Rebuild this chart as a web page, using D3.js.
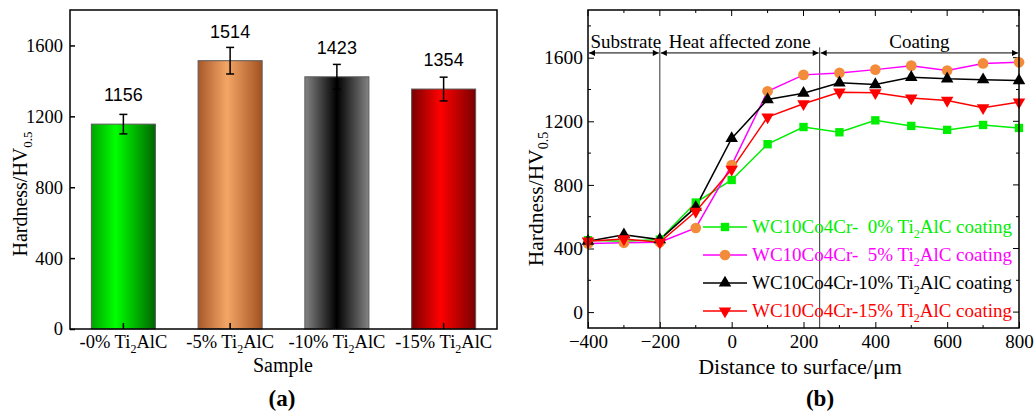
<!DOCTYPE html>
<html><head><meta charset="utf-8">
<script src="https://cdn.jsdelivr.net/npm/d3@7"></script>
<style>
body{margin:0;background:#fff;}
svg text{font-family:"Liberation Serif","Times New Roman",serif;}
</style></head>
<body><svg id="c" width="1036" height="417"></svg>
<script>
// ---- Panel (a) data ----
const categories = ["-0%", "-5%", "-10%", "-15%"];
const hardness = [1156, 1514, 1423, 1354];
const hardnessErr = [55, 75, 70, 67];
const leftYTicks = [0, 400, 800, 1200, 1600];

// ---- Panel (b) data ----
const distance = [-400, -300, -200, -100, 0, 100, 200, 300, 400, 500, 600, 700, 800];
const s0  = [452, 446, 456, 689, 831, 1056, 1164, 1131, 1206, 1171, 1146, 1177, 1158];
const s5  = [431, 436, 439, 529, 925, 1389, 1492, 1504, 1525, 1550, 1519, 1564, 1571];
const s10 = [446, 487, 456, 660, 1092, 1337, 1377, 1442, 1431, 1477, 1467, 1462, 1456];
const s15 = [446, 460, 439, 633, 898, 1227, 1310, 1383, 1379, 1346, 1331, 1285, 1321];
const seriesNames = ["WC10Co4Cr-  0%", "WC10Co4Cr-  5%", "WC10Co4Cr-10%", "WC10Co4Cr-15%"];
const rightXTicks = [-400, -200, 0, 200, 400, 600, 800];
const rightYTicks = [0, 400, 800, 1200, 1600];
const zoneBounds = [-400, -200, 245, 800];
const zoneNames = ["Substrate", "Heat affected zone", "Coating"];

const svg = d3.select("#c");
const defs = svg.append("defs");
const fmt = d3.format("d");

// ================= Panel (a) =================
const ax = d3.scaleBand().domain(categories).range([70, 497]).paddingInner(0.4).paddingOuter(0.2);
const ay = d3.scaleLinear().domain([0, 1800]).range([329, 10]);

const gradStops = [
  [["0%", "#00a400"], ["38%", "#00ff00"], ["100%", "#006600"]],
  [["0%", "#a8582a"], ["45%", "#f4a666"], ["100%", "#a25222"]],
  [["0%", "#848484"], ["50%", "#000000"], ["100%", "#848484"]],
  [["0%", "#7a0000"], ["45%", "#ff0000"], ["100%", "#7a0000"]]
];
gradStops.forEach((st, i) => {
  const g = defs.append("linearGradient").attr("id", "g" + i).attr("x1", "0%").attr("x2", "100%").attr("y1", "0%").attr("y2", "0%");
  st.forEach(s => g.append("stop").attr("offset", s[0]).attr("stop-color", s[1]));
});

const gA = svg.append("g");
gA.selectAll("rect.bar").data(hardness).enter().append("rect")
  .attr("x", (d, i) => ax(categories[i])).attr("width", ax.bandwidth())
  .attr("y", d => ay(d)).attr("height", d => ay(0) - ay(d))
  .attr("fill", (d, i) => `url(#g${i})`).attr("stroke", "#5a5a5a").attr("stroke-width", 1);

// error bars + value labels
hardness.forEach((v, i) => {
  const cx = ax(categories[i]) + ax.bandwidth() / 2;
  const t = ay(v + hardnessErr[i]), b = ay(v - hardnessErr[i]);
  gA.append("line").attr("x1", cx).attr("x2", cx).attr("y1", t).attr("y2", b).attr("stroke", "#000").attr("stroke-width", 1.5);
  [t, b].forEach(yy => gA.append("line").attr("x1", cx - 4).attr("x2", cx + 4).attr("y1", yy).attr("y2", yy).attr("stroke", "#000").attr("stroke-width", 1.5));
  gA.append("text").attr("x", cx).attr("y", ay(v) - 23).attr("text-anchor", "middle")
    .style("font-family", "'Liberation Sans',Arial,sans-serif").style("font-size", "18px").text(v);
});

// frame
gA.append("rect").attr("x", 70).attr("y", 10).attr("width", 427).attr("height", 319).attr("fill", "none").attr("stroke", "#000").attr("stroke-width", 1.5);

// left axis
const yAxA = d3.axisLeft(ay).tickValues(leftYTicks).tickFormat(fmt).tickSizeInner(-5).tickSizeOuter(0).tickPadding(7);
const gyA = gA.append("g").attr("transform", "translate(70,0)").call(yAxA);
gyA.select(".domain").remove();
gyA.selectAll("text").style("font-size", "18.5px").style("font-family", "'Liberation Serif',serif").attr("fill", "#000");
gyA.selectAll("line").attr("stroke-width", 1.5);

// bottom axis
const xAxA = d3.axisBottom(ax).tickSizeInner(-6).tickSizeOuter(0).tickFormat("");
const gxA = gA.append("g").attr("transform", "translate(0,329)").call(xAxA);
gxA.select(".domain").remove();
gxA.selectAll("line").attr("stroke-width", 1.5);
categories.forEach(c => {
  const t = gA.append("text").attr("x", ax(c) + ax.bandwidth() / 2).attr("y", 348).attr("text-anchor", "middle").style("font-size", "18.5px");
  t.append("tspan").text(c + " Ti");
  t.append("tspan").attr("dy", 5).style("font-size", "12px").text("2");
  t.append("tspan").attr("dy", -5).text("AlC");
});
gA.append("text").attr("x", 283).attr("y", 372).attr("text-anchor", "middle").style("font-size", "20px").text("Sample");
{
  const t = gA.append("text").attr("transform", "translate(27,194) rotate(-90)").attr("text-anchor", "middle").style("font-size", "20px");
  t.append("tspan").text("Hardness/HV");
  t.append("tspan").attr("dy", 5).style("font-size", "13px").text("0.5");
}
gA.append("text").attr("x", 282).attr("y", 406).attr("text-anchor", "middle").style("font-size", "23px").style("font-weight", "bold").text("(a)");

// ================= Panel (b) =================
const bx = d3.scaleLinear().domain([-400, 800]).range([588, 1019]);
const by = d3.scaleLinear().domain([-100, 1900]).range([328, 10]);
const gB = svg.append("g");

const minorX = d3.range(-400, 801, 100), minorY = d3.range(-100, 1901, 100).filter(v => v % 200 === 0);
const xAxB = d3.axisBottom(bx).tickValues(rightXTicks).tickSizeInner(-6).tickSizeOuter(0).tickPadding(7).tickFormat(fmt);
const gxB = gB.append("g").attr("transform", "translate(0,328)").call(xAxB);
gxB.select(".domain").remove();
gxB.selectAll("text").style("font-size", "19px").style("font-family", "'Liberation Serif',serif").attr("fill", "#000");
const yAxB = d3.axisLeft(by).tickValues(rightYTicks).tickFormat(fmt).tickSizeInner(-6).tickSizeOuter(0).tickPadding(5);
const gyB = gB.append("g").attr("transform", "translate(588,0)").call(yAxB);
gyB.select(".domain").remove();
gyB.selectAll("text").style("font-size", "19.5px").style("font-family", "'Liberation Serif',serif").attr("fill", "#000");
// minor ticks
minorX.filter(v => v % 200 !== 0).forEach(v => {
  gB.append("line").attr("x1", bx(v)).attr("x2", bx(v)).attr("y1", 328).attr("y2", 325).attr("stroke", "#000");
});
minorX.forEach(v => {
  gB.append("line").attr("x1", bx(v)).attr("x2", bx(v)).attr("y1", 10).attr("y2", v % 200 === 0 ? 16 : 13).attr("stroke", "#000");
});
minorY.forEach(v => {
  const len = v % 400 === 0 ? 6 : 3;
  if (v % 400 !== 0) gB.append("line").attr("x1", 588).attr("x2", 588 + len).attr("y1", by(v)).attr("y2", by(v)).attr("stroke", "#000");
  gB.append("line").attr("x1", 1019).attr("x2", 1019 - len).attr("y1", by(v)).attr("y2", by(v)).attr("stroke", "#000");
});

// zone lines
[zoneBounds[1], zoneBounds[2]].forEach(v => {
  gB.append("line").attr("x1", bx(v)).attr("x2", bx(v)).attr("y1", by(1665)).attr("y2", 328).attr("stroke", "#333").attr("stroke-width", 1);
});
// arrows
defs.append("marker").attr("id", "arr").attr("viewBox", "0 0 10 10").attr("refX", 10).attr("refY", 5)
  .attr("markerWidth", 9).attr("markerHeight", 6).attr("markerUnits", "userSpaceOnUse").attr("orient", "auto-start-reverse")
  .append("path").attr("d", "M0,0 L10,5 L0,10 z").attr("fill", "#000");
for (let i = 0; i < zoneNames.length; i++) {
  const x1 = bx(zoneBounds[i]) + 1, x2 = bx(zoneBounds[i + 1]) - 1;
  gB.append("line").attr("x1", x1).attr("x2", x2).attr("y1", by(1630)).attr("y2", by(1630))
    .attr("stroke", "#000").attr("stroke-width", 1).attr("marker-start", "url(#arr)").attr("marker-end", "url(#arr)");
  gB.append("text").attr("x", (bx(zoneBounds[i]) + bx(zoneBounds[i + 1])) / 2 + (i === 0 ? 2 : 0)).attr("y", by(1630) - 5)
    .attr("text-anchor", "middle").style("font-size", "19px").text(zoneNames[i]);
}

// series
const series = [
  {vals: s0, line: "#00ee00", fill: "#00ee00", sym: d3.symbolSquare, size: 70, text: "#00ee00", rot: 0},
  {vals: s5, line: "#ff00ff", fill: "#f28c3a", sym: d3.symbolCircle, size: 90, text: "#ff00ff", rot: 0},
  {vals: s10, line: "#000000", fill: "#000000", sym: d3.symbolTriangle, size: 68, text: "#000000", rot: 0},
  {vals: s15, line: "#ff0000", fill: "#ff0000", sym: d3.symbolTriangle, size: 68, text: "#ff0000", rot: 180}
];
const lineGen = d3.line().x((d, i) => bx(distance[i])).y(d => by(d));
const gS = gB.append("g");
series.forEach(s => {
  gS.append("path").datum(s.vals).attr("d", lineGen).attr("fill", "none").attr("stroke", s.line).attr("stroke-width", 1.5);
});
series.forEach(s => {
  gS.selectAll(null).data(s.vals).enter().append("path")
    .attr("d", d3.symbol().type(s.sym).size(s.size))
    .attr("transform", (d, i) => `translate(${bx(distance[i])},${by(d)}) rotate(${s.rot})`)
    .attr("fill", s.fill);
});

// frame
gB.append("rect").attr("x", 588).attr("y", 10).attr("width", 431).attr("height", 318).attr("fill", "none").attr("stroke", "#000").attr("stroke-width", 1.5);

// legend
series.forEach((s, i) => {
  const yy = 227 + i * 28;
  gB.append("line").attr("x1", 703).attr("x2", 747).attr("y1", yy).attr("y2", yy).attr("stroke", s.line).attr("stroke-width", 1.5);
  gB.append("path").attr("d", d3.symbol().type(s.sym).size(s.size)).attr("transform", `translate(725,${yy}) rotate(${s.rot})`).attr("fill", s.fill);
  const t = gB.append("text").attr("x", 752).attr("y", yy + 6).style("font-size", "19px").style("white-space", "pre").attr("fill", s.text);
  t.append("tspan").text(seriesNames[i] + " Ti");
  t.append("tspan").attr("dy", 5).style("font-size", "12px").text("2");
  t.append("tspan").attr("dy", -5).text("AlC coating");
});

// axis titles
{
  const t = gB.append("text").attr("transform", "translate(543,199) rotate(-90)").attr("text-anchor", "middle").style("font-size", "21.5px");
  t.append("tspan").text("Hardness/HV");
  t.append("tspan").attr("dy", 5).style("font-size", "14px").text("0.5");
}
gB.append("text").attr("x", 800).attr("y", 374).attr("text-anchor", "middle").style("font-size", "22px").text("Distance to surface/\u03bcm");
gB.append("text").attr("x", 820).attr("y", 406).attr("text-anchor", "middle").style("font-size", "23px").style("font-weight", "bold").text("(b)");
</script></body></html>
